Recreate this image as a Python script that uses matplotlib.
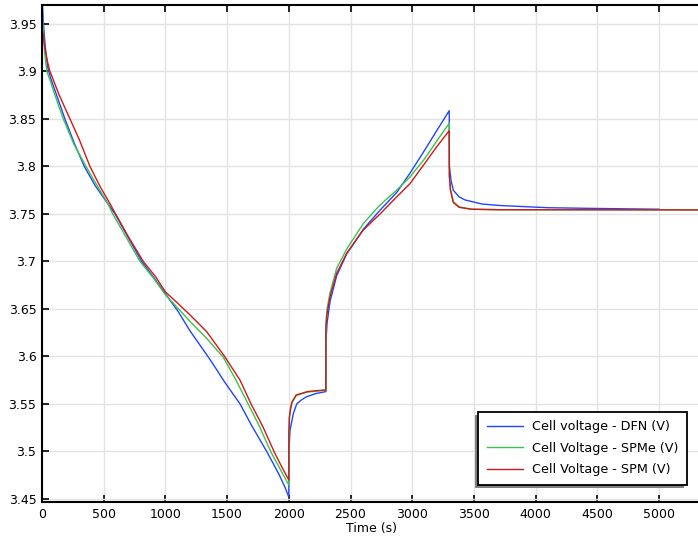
import matplotlib.pyplot as plt
from matplotlib.patches import Rectangle
from matplotlib.ticker import FuncFormatter
from matplotlib.transforms import IdentityTransform

# values
dfn_t = [0, 5, 12, 25, 45, 70, 100, 186, 260, 343, 430, 538, 592, 700, 808, 900, 1000,
         1105, 1199, 1280, 1355, 1416, 1475, 1605, 1700, 1821, 1920, 1970, 2000,
         2000.5, 2010, 2037, 2064, 2100, 2145, 2220, 2300,
         2300.5, 2310, 2334, 2388, 2469, 2604, 2739, 2874, 2982, 3100, 3200, 3300,
         3301, 3315, 3333, 3380, 3430, 3565, 3700, 4100, 4500, 5000]
dfn_v = [3.99, 3.967, 3.95, 3.928, 3.905, 3.893, 3.882, 3.85, 3.825, 3.80, 3.78, 3.76, 3.75, 3.725, 3.70, 3.684, 3.666,
         3.647, 3.627, 3.612, 3.598, 3.586, 3.574, 3.55, 3.527, 3.50, 3.476, 3.462, 3.452,
         3.50, 3.5226, 3.540, 3.55, 3.554, 3.5577, 3.561, 3.563,
         3.615, 3.635, 3.658, 3.685, 3.708, 3.734, 3.754, 3.7725, 3.793, 3.817, 3.838, 3.8587,
         3.80, 3.785, 3.775, 3.768, 3.7647, 3.7605, 3.759, 3.7566, 3.7558, 3.755]

spme_t = [0, 5, 12, 25, 40, 70, 100, 173, 260, 357, 450, 538, 573, 680, 794, 900, 1000,
          1199, 1335, 1470, 1564, 1659, 1760, 1853, 1940, 2000,
          2000.5, 2005, 2015, 2025, 2060, 2150, 2300,
          2300.5, 2310, 2334, 2388, 2469, 2604, 2739, 2874, 2982, 3100, 3200, 3300,
          3301, 3310, 3333, 3380, 3480, 3700, 5400]
spme_v = [3.98, 3.955, 3.937, 3.915, 3.90, 3.889, 3.877, 3.85, 3.823, 3.80, 3.779, 3.76, 3.75, 3.726, 3.70, 3.683, 3.665,
          3.637, 3.619, 3.599, 3.577, 3.553, 3.527, 3.50, 3.479, 3.4647,
          3.515, 3.535, 3.545, 3.551, 3.559, 3.5625, 3.5645,
          3.635, 3.65, 3.667, 3.693, 3.713, 3.740, 3.7595, 3.775, 3.789, 3.808, 3.827, 3.8455,
          3.79, 3.776, 3.763, 3.7575, 3.755, 3.7545, 3.7543]

spm_t = [0, 10, 24, 45, 65, 140, 227, 300, 389, 470, 559, 592, 700, 821, 920, 1000,
         1100, 1200, 1335, 1480, 1605, 1694, 1790, 1880, 1950, 2000,
         2000.5, 2005, 2015, 2025, 2060, 2100, 2150, 2225, 2300,
         2300.5, 2310, 2334, 2388, 2469, 2604, 2739, 2874, 2982, 3100, 3200, 3300,
         3301, 3310, 3333, 3380, 3480, 3700, 5400]
spm_v = [3.945, 3.938, 3.924, 3.91, 3.90, 3.875, 3.85, 3.829, 3.80, 3.779, 3.759, 3.751, 3.726, 3.70, 3.684, 3.668,
         3.656, 3.6437, 3.626, 3.60, 3.575, 3.55, 3.526, 3.50, 3.482, 3.470,
         3.52, 3.537, 3.546, 3.552, 3.5595, 3.561, 3.563, 3.564, 3.5647,
         3.63, 3.645, 3.663, 3.6876, 3.7086, 3.7332, 3.75, 3.768, 3.782, 3.803, 3.821, 3.8377,
         3.79, 3.775, 3.762, 3.757, 3.755, 3.7545, 3.7543]

labels = ["Cell voltage - DFN (V)", "Cell Voltage - SPMe (V)", "Cell Voltage - SPM (V)"]
colors = ["#1f45ff", "#3cc24a", "#d01818"]

x_ticks = list(range(0, 5001, 500))
y_ticks = [3.45, 3.5, 3.55, 3.6, 3.65, 3.7, 3.75, 3.8, 3.85, 3.9, 3.95]

W, H = 698, 539
fig = plt.figure(figsize=(W / 100, H / 100), dpi=100)
ax = fig.add_axes([42 / W, 1 - 502 / H, 658 / W, 497 / H])

series = [(dfn_t, dfn_v), (spme_t, spme_v), (spm_t, spm_v)]
for (t, v), lab, c in zip(series, labels, colors):
    ax.plot(t, v, color=c, lw=1.0, label=lab)

ax.set_xlim(0, 5332)
ax.set_ylim(3.4468, 3.970)
ax.set_xticks(x_ticks)
ax.set_yticks(y_ticks)
ax.yaxis.set_major_formatter(FuncFormatter(lambda v, p: f"{v:g}"))
ax.tick_params(direction="in", length=5, width=1.2, labelsize=9, top=True, right=False, pad=4)
ax.grid(True, color="#e3e3e3", lw=1.0)
ax.set_axisbelow(True)
for s in ax.spines.values():
    s.set_linewidth(1.5)
ax.set_xlabel("Time (s)", fontsize=9, labelpad=1)

leg = ax.legend(loc="lower right", bbox_to_anchor=(0.980, 0.0342), borderaxespad=0,
                fancybox=False, edgecolor="black", framealpha=1, fontsize=9.2,
                handlelength=2.8, handletextpad=0.65, borderpad=0.7, labelspacing=0.65)
leg.get_frame().set_linewidth(1.3)

# grey drop shadow down and to the left of the legend box
fig.canvas.draw()
bb = leg.get_window_extent()
ax.add_patch(Rectangle((bb.x0 - 3, bb.y0 - 3), bb.width, bb.height, transform=IdentityTransform(),
                       facecolor="#808080", edgecolor="none", zorder=4.9, clip_on=False))

fig.savefig("out.png", dpi=100)
